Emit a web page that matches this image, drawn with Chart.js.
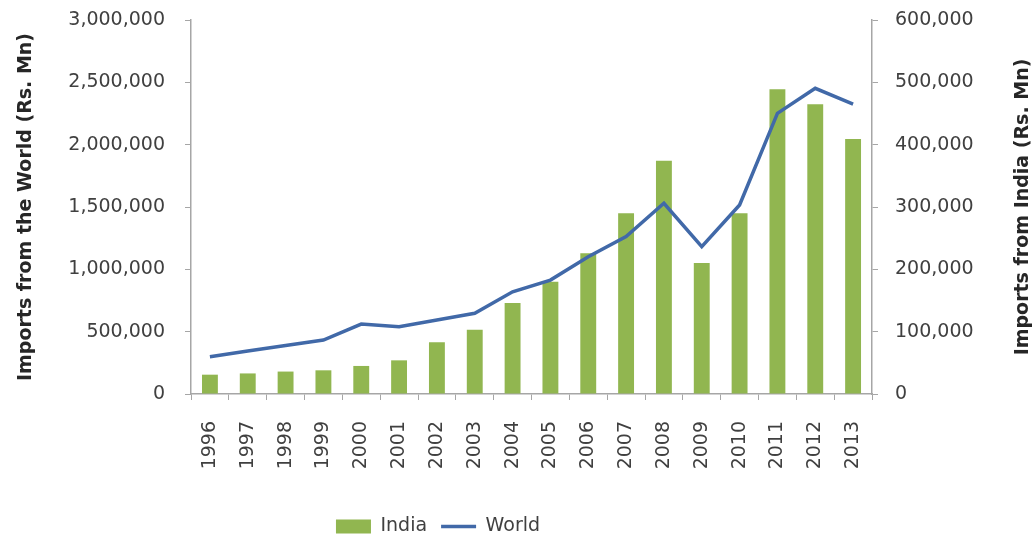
<!DOCTYPE html>
<html>
<head>
<meta charset="utf-8">
<script src="https://cdn.jsdelivr.net/npm/chart.js@4.4.1/dist/chart.umd.min.js"></script>
<style>
  html, body { margin: 0; padding: 0; background: #ffffff; }
  #wrap { width: 1036px; height: 539px; }
</style>
</head>
<body>
<div id="wrap"><canvas id="canvas1" width="1036" height="539"></canvas></div>
<script>
// datos
const years = ['1996','1997','1998','1999','2000','2001','2002','2003','2004','2005','2006','2007','2008','2009','2010','2011','2012','2013'];
const india = [31000, 33000, 36000, 38000, 45000, 54000, 83000, 103000, 146000, 180000, 226000, 290000, 374000, 210000, 290000, 489000, 465000, 409000];
const world = [299000, 345000, 389000, 433000, 561000, 540000, 594000, 647000, 820000, 914000, 1101000, 1262000, 1530000, 1182000, 1516000, 2251000, 2452000, 2326000];
const leftTitle = 'Imports from the World (Rs. Mn)';
const rightTitle = 'Imports from India (Rs. Mn)';

const FONT = 'DejaVu Sans';
const axisGray = '#a6a6a6';

// plugin que dibuja el titulo del eje derecho (texto de abajo hacia arriba)
const rightTitlePlugin = {
  id: 'right-title',
  afterDraw: ( chart ) => {
    const ctx = chart.ctx;
    const area = chart.chartArea;
    ctx.save();
    ctx.translate( 1023, ( area.top + area.bottom ) / 2 );
    ctx.rotate( -Math.PI / 2 );
    ctx.font = 'bold 19px "' + FONT + '"';
    ctx.fillStyle = '#262626';
    ctx.textAlign = 'center';
    ctx.textBaseline = 'middle';
    ctx.fillText( rightTitle, 0, 0 );
    ctx.restore();
  }
};

// mueve la leyenda un poco a la izquierda como en el original
const legendShiftPlugin = {
  id: 'legend-shift',
  afterLayout: ( chart ) => {
    if ( chart.legend ) {
      chart.legend.left = 0;
      chart.legend.right = 876;
    }
  }
};

const fmt = ( v ) => Number( v ).toLocaleString( 'en-US' );

// ancho fijo del eje y sin relleno extra arriba/abajo
const fixWidth = ( w ) => ( scale ) => {
  scale.width = w;
  scale.paddingTop = 0;
  scale.paddingBottom = 0;
};

new Chart( document.querySelector( '#canvas1' ), {
  type: 'bar',
  data: {
    labels: years,
    datasets: [{
      type: 'bar',
      label: 'India',
      data: india,
      yAxisID: 'y2',
      backgroundColor: '#91b650',
      borderWidth: 0,
      barPercentage: 0.42,
      categoryPercentage: 1,
      pointStyle: 'rect',
      order: 1
    }, {
      type: 'line',
      label: 'World',
      data: world,
      yAxisID: 'y',
      borderColor: '#4169a8',
      backgroundColor: '#4169a8',
      borderWidth: 3.5,
      pointRadius: 0,
      pointStyle: 'line',
      tension: 0,
      order: 0
    }]
  },
  options: {
    responsive: false,
    animation: false,
    layout: { padding: { top: 20, right: 0, bottom: -7, left: 0 } },
    plugins: {
      tooltip: { enabled: false },
      legend: {
        position: 'bottom',
        labels: {
          usePointStyle: true,
          pointStyleWidth: 35,
          boxHeight: 14,
          padding: 14,
          color: '#404040',
          font: { family: FONT, size: 19 },
          sort: ( a, b ) => a.datasetIndex - b.datasetIndex
        }
      }
    },
    scales: {
      x: {
        afterFit: ( scale ) => { scale.height = 109; },
        grid: {
          display: true,
          drawOnChartArea: false,
          offset: true,
          tickLength: 6,
          color: axisGray
        },
        border: { color: axisGray, width: 1.5 },
        ticks: {
          minRotation: 90,
          maxRotation: 90,
          autoSkip: false,
          padding: 21,
          color: '#404040',
          font: { family: FONT, size: 19 }
        }
      },
      y: {
        position: 'left',
        min: 0,
        max: 3000000,
        afterFit: fixWidth( 191 ),
        grid: { drawOnChartArea: false, tickLength: 6, color: axisGray },
        border: { color: axisGray, width: 1.5 },
        ticks: {
          stepSize: 500000,
          padding: 20,
          color: '#404040',
          font: { family: FONT, size: 19 },
          callback: fmt
        },
        title: {
          display: true,
          text: leftTitle,
          color: '#262626',
          padding: { top: 15, bottom: 0 },
          font: { family: FONT, size: 19, weight: 'bold' }
        }
      },
      y2: {
        position: 'right',
        min: 0,
        max: 600000,
        afterFit: fixWidth( 164 ),
        grid: { drawOnChartArea: false, tickLength: 6, color: axisGray },
        border: { color: axisGray, width: 1.5 },
        ticks: {
          stepSize: 100000,
          padding: 17,
          color: '#404040',
          font: { family: FONT, size: 19 },
          callback: fmt
        }
      }
    }
  },
  plugins: [ rightTitlePlugin, legendShiftPlugin ]
});
</script>
</body>
</html>
